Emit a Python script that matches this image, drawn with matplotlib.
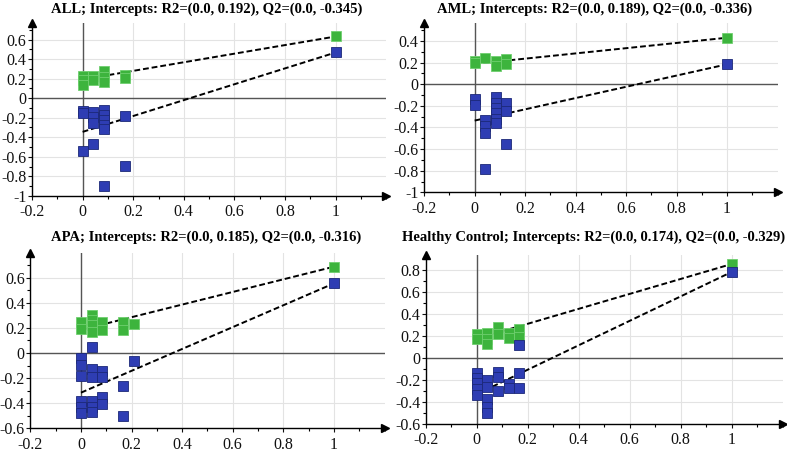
import matplotlib
matplotlib.use("Agg")
import matplotlib.pyplot as plt
from matplotlib.ticker import MultipleLocator

plt.rcParams['font.family'] = ['Liberation Serif', 'DejaVu Serif']

# permutation test values (x = corr. of permuted y with original y)
all_r2_x = [0, 0, 0, 0.042, 0.042, 0.083, 0.083, 0.083, 0.167, 0.167, 1]
all_r2_y = [0.23, 0.19, 0.14, 0.23, 0.19, 0.28, 0.22, 0.17, 0.235, 0.21, 0.632]
all_q2_x = [0, 0, 0, 0.042, 0.042, 0.042, 0.042, 0.083, 0.083, 0.083, 0.083, 0.083, 0.083,
            0.167, 0.167, 1]
all_q2_y = [-0.13, -0.15, -0.537, -0.14, -0.195, -0.256, -0.468, -0.12, -0.17, -0.22, -0.27,
            -0.32, -0.896, -0.185, -0.69, 0.468]

aml_r2_x = [0, 0, 0.042, 0.083, 0.083, 0.125, 0.125, 1]
aml_r2_y = [0.22, 0.2, 0.24, 0.22, 0.165, 0.235, 0.185, 0.431]
aml_q2_x = [0, 0, 0.042, 0.042, 0.042, 0.042, 0.083, 0.083, 0.083, 0.083, 0.083, 0.083,
            0.125, 0.125, 0.125, 1]
aml_q2_y = [-0.14, -0.19, -0.33, -0.385, -0.45, -0.78, -0.12, -0.17, -0.216, -0.27, -0.32,
            -0.36, -0.176, -0.247, -0.556, 0.185]

apa_r2_x = [0, 0, 0.042, 0.042, 0.042, 0.042, 0.083, 0.083, 0.167, 0.167, 0.208, 1]
apa_r2_y = [0.248, 0.19, 0.307, 0.26, 0.22, 0.17, 0.248, 0.18, 0.248, 0.18, 0.23, 0.688]
apa_q2_x = [0, 0, 0, 0, 0, 0, 0.042, 0.042, 0.042, 0.042, 0.042, 0.042,
            0.083, 0.083, 0.083, 0.083, 0.167, 0.167, 0.208, 1]
apa_q2_y = [-0.037, -0.093, -0.18, -0.38, -0.43, -0.48, 0.048, -0.13, -0.19, -0.384, -0.43,
            -0.467, -0.147, -0.19, -0.347, -0.405, -0.26, -0.5, -0.067, 0.555]

hc_r2_x = [0, 0, 0.042, 0.042, 0.042, 0.083, 0.083, 0.125, 0.125, 0.167, 0.167, 1]
hc_r2_y = [0.218, 0.17, 0.23, 0.176, 0.127, 0.28, 0.22, 0.227, 0.18, 0.26, 0.194, 0.852]
hc_q2_x = [0, 0, 0, 0, 0, 0.042, 0.042, 0.042, 0.042, 0.042, 0.083, 0.083, 0.083,
           0.125, 0.125, 0.167, 0.167, 0.167, 1]
hc_q2_y = [-0.133, -0.18, -0.23, -0.28, -0.34, -0.2, -0.26, -0.37, -0.445, -0.497,
           -0.13, -0.173, -0.3, -0.24, -0.27, -0.133, -0.27, 0.115, 0.78]

groups = ['ALL', 'AML', 'APA', 'Healthy Control']
r2_int = [0.192, 0.189, 0.185, 0.174]
q2_int = [-0.345, -0.336, -0.316, -0.329]

panels = [
    (all_r2_x, all_r2_y, all_q2_x, all_q2_y, (-1, 0.77), [0.0407, 0.5687, 0.450, 0.3806]),
    (aml_r2_x, aml_r2_y, aml_q2_x, aml_q2_y, (-1, 0.57), [0.539, 0.5764, 0.449, 0.3736]),
    (apa_r2_x, apa_r2_y, apa_q2_x, apa_q2_y, (-0.6, 0.795), [0.0386, 0.0566, 0.450, 0.3855]),
    (hc_r2_x, hc_r2_y, hc_q2_x, hc_q2_y, (-0.6, 0.93), [0.5409, 0.066, 0.4536, 0.3714]),
]
# title centres in pixels
title_xy = [(207, 9), (595, 9), (206, 237), (594, 237)]

green = '#3db43d'
blue = '#2e3db3'
fig = plt.figure(figsize=(7.87, 4.54), dpi=100)

for i, (rx, ry, qx, qy, ylim, pos) in enumerate(panels):
    ax = fig.add_axes(pos)
    ax.set_xlim(-0.2, 1.2)
    ax.set_ylim(*ylim)
    ax.xaxis.set_minor_locator(MultipleLocator(0.1))
    ax.yaxis.set_major_locator(MultipleLocator(0.2))
    ax.yaxis.set_minor_locator(MultipleLocator(0.1))
    xt = [-0.2, 0, 0.2, 0.4, 0.6, 0.8, 1.0]
    ax.set_xticks(xt)
    ax.set_xticklabels(['%g' % round(t, 1) for t in xt])
    yt = [t for t in ax.get_yticks() if ylim[0] - 1e-9 <= t <= ylim[1]]
    ax.set_yticks(yt)
    ax.set_yticklabels(['%g' % round(t, 1) for t in yt])
    ax.grid(True, which='major', color='#e3e3e3', lw=0.8)
    ax.set_axisbelow(True)
    for s in ['top', 'right']:
        ax.spines[s].set_visible(False)
    for s in ['left', 'bottom']:
        ax.spines[s].set_linewidth(1.0)
    ax.tick_params(which='major', length=3, width=0.8, labelsize=11.5,
                   colors='#111111', pad=1)
    ax.tick_params(axis='x', which='major', pad=3)
    ax.tick_params(which='minor', length=2, width=0.8)
    # arrows at axis ends
    ax.plot(0, 1, '^', color='black', ms=6, transform=ax.transAxes, clip_on=False)
    ax.plot(1, 0, '>', color='black', ms=6, transform=ax.transAxes, clip_on=False)
    # zero lines
    ax.axhline(0, color='#555555', lw=1.0, zorder=1)
    ax.axvline(0, color='#555555', lw=1.0, zorder=1)
    # regression lines from intercept to the original model point
    ax.plot([0, rx[-1]], [r2_int[i], ry[-1]], color='black', lw=1.4, ls=(0, (3, 1.5)), zorder=2)
    ax.plot([0, qx[-1]], [q2_int[i], qy[-1]], color='black', lw=1.4, ls=(0, (3, 1.5)), zorder=2)
    ax.plot(rx, ry, 's', color=green, mec='#6fcf6f', mew=0.6, ms=7, ls='none', zorder=3)
    ax.plot(qx, qy, 's', color=blue, mec='#1c2878', mew=0.6, ms=7, ls='none', zorder=3)
    tx, ty = title_xy[i]
    fig.text(tx / 787, 1 - ty / 454,
             '%s; Intercepts: R2=(0.0, %.3f), Q2=(0.0, %.3f)' % (groups[i], r2_int[i], q2_int[i]),
             fontsize=10.5, fontweight='bold', ha='center', va='center')

fig.savefig('out.png', dpi=100)
